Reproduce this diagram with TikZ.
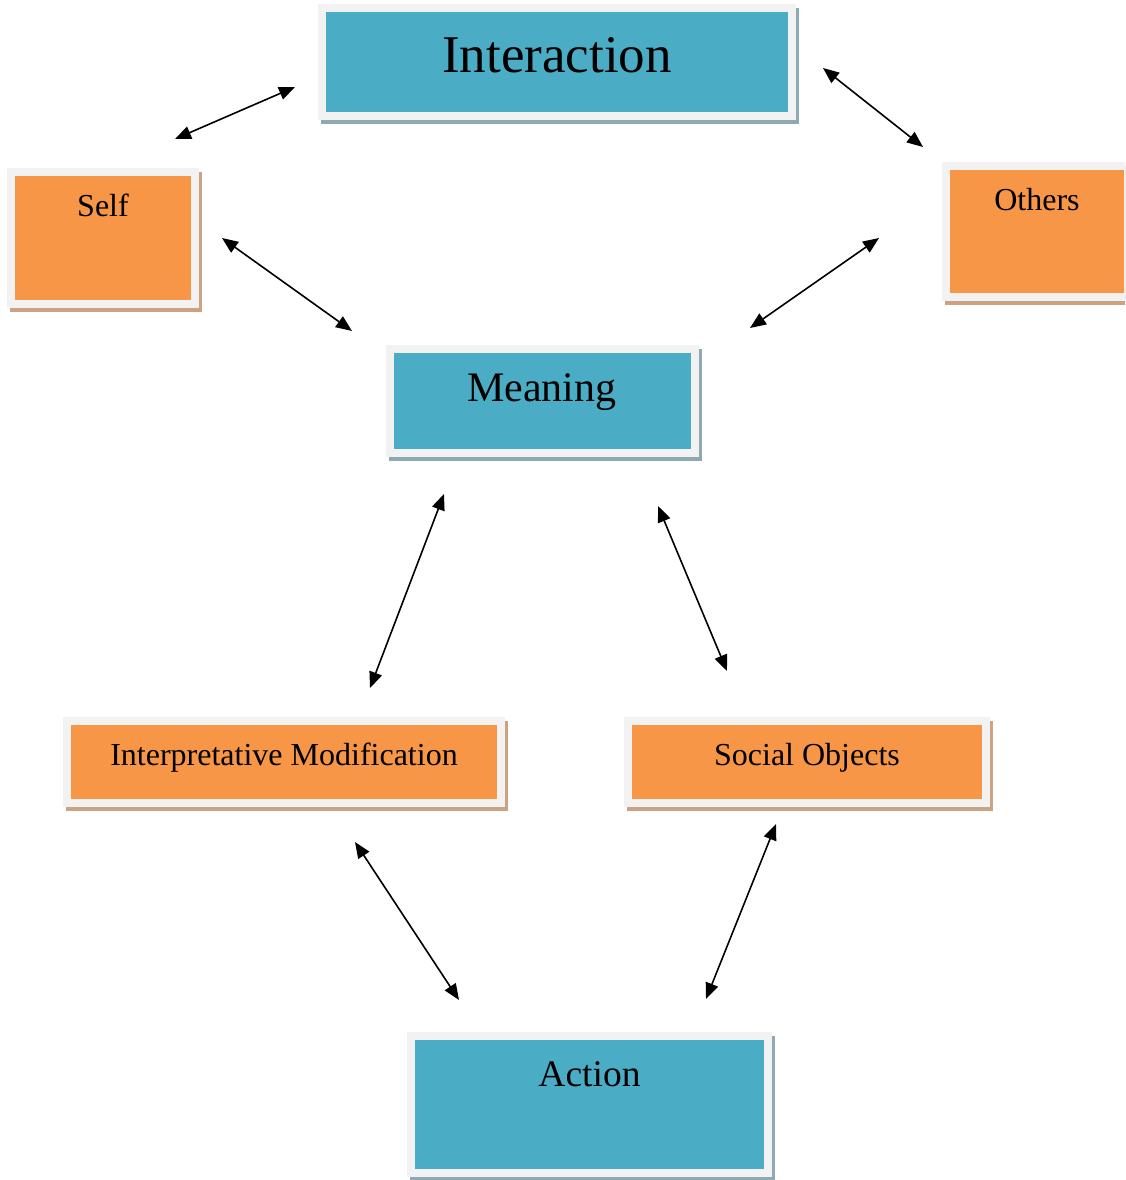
\documentclass[tikz,border=0pt]{standalone}
\usepackage{fontspec}
\setmainfont{Liberation Serif}
\usetikzlibrary{arrows.meta, calc}
\definecolor{boxblue}{HTML}{4BACC6}
\definecolor{boxorange}{HTML}{F79646}
\definecolor{rimgrey}{HTML}{F2F2F2}
\definecolor{blueshade}{HTML}{8DAAB3}
\definecolor{orangeshade}{HTML}{CDA282}
\tikzstyle{card} = [rectangle, inner sep=0pt, text centered, draw=rimgrey, line width=8pt]
\tikzstyle{bluecard} = [card, fill=boxblue, preaction={draw=blueshade, fill=blueshade, line width=8pt, transform canvas={xshift=3pt, yshift=-4pt}}]
\tikzstyle{orangecard} = [card, fill=boxorange, preaction={draw=orangeshade, fill=orangeshade, line width=8pt, transform canvas={xshift=3pt, yshift=-4pt}}]
\tikzstyle{link} = [{Triangle[length=16pt,width=13pt]}-{Triangle[length=16pt,width=13pt]}, line width=1.6pt]

\begin{document}
\begin{tikzpicture}[x=1pt, y=-1pt]
		\useasboundingbox (0,0) rectangle (1125,1180);
		\clip (0,0) rectangle (1125,1180);

		\node (interaction) [bluecard, minimum width=470pt, minimum height=108pt, text height=22pt, text depth=0pt, font=\fontsize{53}{60}\selectfont] at (557,62) {Interaction};
		\node (self) [orangecard, minimum width=184pt, minimum height=132pt, text height=0pt, text depth=44pt, font=\fontsize{32}{38}\selectfont] at ($(interaction) + (-454,176)$) {Self};
		\node (others) [orangecard, minimum width=182pt, minimum height=131pt, text height=0pt, text depth=43pt, font=\fontsize{32}{38}\selectfont] at ($(interaction) + (480,169.5)$) {Others};
		\node (meaning) [bluecard, minimum width=305pt, minimum height=104.5pt, text height=0pt, text depth=0pt, font=\fontsize{42}{50}\selectfont] at ($(interaction) + (-15,339)$) {Meaning};
		\node (modification) [orangecard, minimum width=434pt, minimum height=82.5pt, text height=6pt, text depth=0pt, font=\fontsize{32}{38}\selectfont] at ($(meaning) + (-258,361)$) {Interpretative Modification};
		\node (objects) [orangecard, minimum width=357.5pt, minimum height=82.5pt, text height=6pt, text depth=0pt, font=\fontsize{32}{38}\selectfont] at ($(meaning) + (265,361)$) {Social Objects};
		\node (action) [bluecard, minimum width=357pt, minimum height=137pt, text height=0pt, text depth=37pt, font=\fontsize{37.5}{44}\selectfont] at ($(meaning) + (47.5,703.5)$) {Action};

		% arrow ends
		\coordinate (self-top) at (175,139);
		\coordinate (interaction-left) at (295,87);
		\coordinate (interaction-right) at (823,68);
		\coordinate (others-top) at (923,147);
		\coordinate (self-right) at (222,238);
		\coordinate (meaning-left) at (352,331);
		\coordinate (others-left) at (879,238);
		\coordinate (meaning-right) at (750,328);
		\coordinate (meaning-low-left) at (444,494);
		\coordinate (modification-top) at (370,688);
		\coordinate (meaning-low-right) at (658,506);
		\coordinate (objects-top) at (727,671);
		\coordinate (modification-low) at (355,842);
		\coordinate (action-left) at (459,1000);
		\coordinate (objects-low) at (776,824);
		\coordinate (action-right) at (706,999);

		\draw[link] (self-top) -- (interaction-left);
		\draw[link] (interaction-right) -- (others-top);
		\draw[link] (self-right) -- (meaning-left);
		\draw[link] (others-left) -- (meaning-right);
		\draw[link] (meaning-low-left) -- (modification-top);
		\draw[link] (meaning-low-right) -- (objects-top);
		\draw[link] (modification-low) -- (action-left);
		\draw[link] (objects-low) -- (action-right);
	\end{tikzpicture}
\end{document}
